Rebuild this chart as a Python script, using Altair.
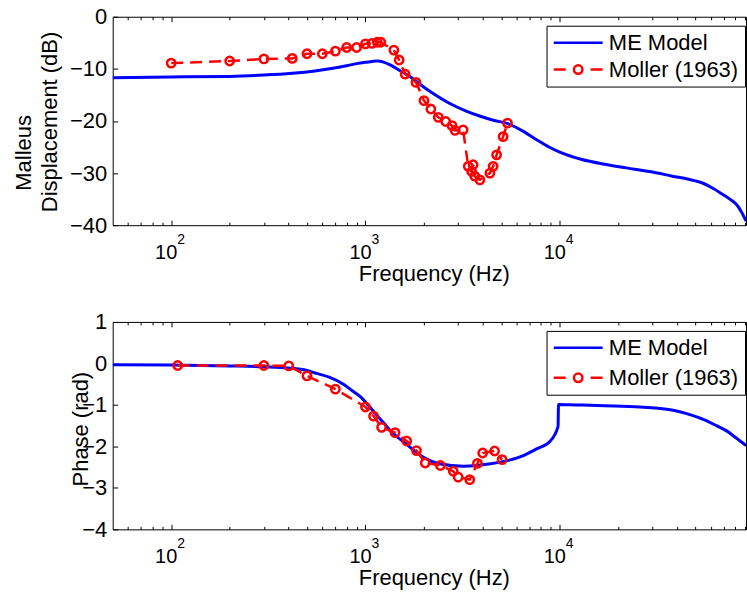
import altair as alt
import pandas as pd

FONT = "Liberation Sans"
XMIN, XMAX = 50, 90900
DECADES = [100, 1000, 10000]
MINOR = [60, 70, 80, 90, 200, 300, 400, 500, 600, 700, 800, 900,
         2000, 3000, 4000, 5000, 6000, 7000, 8000, 9000,
         20000, 30000, 40000, 50000, 60000, 70000, 80000, 90000]
SERIES = ["ME Model", "Moller (1963)"]
COLORS = ["#0000ff", "#ff0000"]

# ---- top panel: malleus displacement (dB) ----
mag_model_freq = [50, 100, 200, 300, 420, 550, 680, 800, 900, 1000, 1150, 1250, 1340,
                  1500, 1700, 1900, 2200, 2700, 3300, 3900, 4600, 5400, 6500, 7600,
                  8800, 10000, 13000, 17000, 22000, 30000, 38000, 46000, 55000, 62000,
                  69000, 75000, 81000, 86000, 91000]
mag_model_db = [-11.7, -11.55, -11.45, -11.2, -10.85, -10.4, -9.9, -9.4, -9.0, -8.75, -8.5,
                -8.75, -9.25, -10.3, -11.5, -12.9, -14.6, -16.6, -18.1, -19.1, -19.9,
                -20.5, -22.0, -23.6, -25.0, -26.0, -27.4, -28.3, -29.0, -29.8, -30.6,
                -31.2, -32.0, -33.0, -34.1, -35.0, -36.0, -37.4, -39.2]

mag_moller_freq = [100, 200, 300, 420, 500, 600, 700, 800, 900, 1000, 1080, 1150, 1200,
                   1400, 1490, 1600, 1820, 2000, 2170, 2370, 2590, 2790, 2890, 3180,
                   3380, 3520, 3580, 3650, 3880, 4370, 4540, 4730, 5110, 5380]
mag_moller_db = [-8.9, -8.5, -8.1, -8.0, -7.1, -7.1, -6.6, -5.9, -5.9, -5.2, -5.1, -4.9,
                 -4.9, -6.4, -8.3, -11.0, -12.6, -16.1, -17.7, -19.3, -20.1, -20.9,
                 -21.8, -21.7, -28.7, -29.7, -28.4, -30.6, -31.3, -30.0, -28.7, -26.5,
                 -23.0, -20.4]

# ---- bottom panel: phase (rad) ----
ph_model_freq = [50, 100, 200, 300, 400, 500, 560, 650, 770, 850, 940, 1040, 1140, 1250,
                 1340, 1500, 1630, 1800, 2000, 2400, 3200, 4400, 5500, 6500, 7600, 8900,
                 9800, 9850, 12000, 17000, 25800, 32000, 38300, 45000, 56800, 64000,
                 71900, 80000, 91000]
ph_model_rad = [-0.03, -0.04, -0.06, -0.08, -0.11, -0.17, -0.24, -0.33, -0.5, -0.65, -0.8,
                -1.02, -1.24, -1.45, -1.62, -1.82, -1.95, -2.12, -2.27, -2.42, -2.48,
                -2.42, -2.33, -2.22, -2.06, -1.88, -1.52, -0.99, -1.0, -1.02, -1.05,
                -1.08, -1.13, -1.21, -1.38, -1.5, -1.62, -1.78, -1.98]

ph_moller_freq = [108, 300, 403, 500, 700, 1000, 1100, 1210, 1420, 1630, 1830, 2030, 2430,
                  2830, 3000, 3440, 3770, 4010, 4620, 5050]
ph_moller_rad = [-0.05, -0.05, -0.06, -0.3, -0.62, -1.05, -1.27, -1.54, -1.67, -1.87, -2.1,
                 -2.4, -2.46, -2.6, -2.74, -2.8, -2.41, -2.16, -2.11, -2.32]

# custom legend symbols (line sample, and dashed line with a circle marker)
SHAPES = [
    "M-1.147,0L4.618,0",
    "M-1.147,0L0.265,0M3.206,0L4.618,0"
    "M2.235,0A0.5,0.5,0,1,1,1.235,0A0.5,0.5,0,1,1,2.235,0",
]


def make_df(freq, val, series):
    return pd.DataFrame({"freq": freq, "val": val, "series": series})


def panel(model_df, moller_df, ydom, yticks, ytitle, ytitle_x, ytitle_y, extra_title,
          height, leg_x, leg_y, row_pad):
    xs = alt.Scale(type="log", domain=[XMIN, XMAX], nice=False)
    ys = alt.Scale(domain=ydom, nice=False, zero=False)

    common = dict(grid=False, domain=False, tickColor="black", tickWidth=1,
                  labelFont=FONT, labelColor="black", labelFlush=False,
                  labelOverlap=False)

    ax_bottom_major = alt.Axis(
        orient="bottom", offset=-5, values=DECADES, tickSize=5, labels=False,
        title="Frequency (Hz)", titleFont=FONT, titleFontSize=22,
        titleFontWeight="normal", titleColor="black", titleX=322, titleY=60,
        titleBaseline="alphabetic", titleAlign="center", **common)
    ax_bottom_minor = alt.Axis(orient="bottom", offset=-3, values=MINOR, tickSize=3,
                               labels=False, title=None, **common)
    ax_top_major = alt.Axis(orient="top", offset=-5, values=DECADES, tickSize=5,
                            labels=False, title=None, **common)
    ax_top_minor = alt.Axis(orient="top", offset=-3, values=MINOR, tickSize=3,
                            labels=False, title=None, **common)
    # "10" base of the tick labels, shifted left of the tick like the reference
    ax_base = alt.Axis(orient="bottom", values=DECADES, ticks=False, tickSize=0,
                       translate=-5, labelExpr="'10'", labelFontSize=20,
                       labelBaseline="alphabetic", labelPadding=39,
                       labelAlign="center", title=None, **common)
    # superscript exponents
    ax_exp = alt.Axis(orient="bottom", values=DECADES, ticks=False, tickSize=0,
                      translate=6, labelExpr="format(log(datum.value) / LN10, 'd')",
                      labelFontSize=14, labelBaseline="alphabetic", labelPadding=13,
                      labelAlign="left", title=None, **common)

    ax_y = alt.Axis(orient="left", offset=-5, values=yticks, tickSize=5,
                    labelFontSize=22, labelPadding=6, title=ytitle,
                    titleFont=FONT, titleFontSize=22, titleFontWeight="normal",
                    titleColor="black", titleAngle=270, titleX=ytitle_x,
                    titleY=ytitle_y, titleAlign="center", titleBaseline="middle",
                    **common)
    if extra_title:
        ax_y2 = alt.Axis(orient="left", ticks=False, labels=False, domain=False,
                         grid=False, title=extra_title[0], titleFont=FONT,
                         titleFontSize=22, titleFontWeight="normal",
                         titleColor="black", titleAngle=270, titleX=extra_title[1],
                         titleY=extra_title[2], titleAlign="center",
                         titleBaseline="middle")
    else:
        ax_y2 = None

    model = alt.Chart(model_df).mark_line(
        color=COLORS[0], strokeWidth=3, interpolate="monotone", clip=True
    ).encode(
        x=alt.X("freq:Q", scale=xs, axis=ax_bottom_major),
        y=alt.Y("val:Q", scale=ys, axis=ax_y),
    )
    mline = alt.Chart(moller_df).mark_line(
        color=COLORS[1], strokeWidth=2.5, strokeDash=[12, 7], clip=True
    ).encode(
        x=alt.X("freq:Q", scale=xs, axis=ax_bottom_minor),
        y=alt.Y("val:Q", scale=ys, axis=ax_y2),
    )
    mpts = alt.Chart(moller_df).mark_point(
        shape="circle", filled=False, color=COLORS[1], size=70, strokeWidth=2.5,
        opacity=1, clip=True
    ).encode(
        x=alt.X("freq:Q", scale=xs, axis=ax_top_major),
        y=alt.Y("val:Q", scale=ys, axis=None),
    )
    leg = alt.Legend(title=None, orient="none", legendX=leg_x, legendY=leg_y,
                     padding=6, strokeColor="black", fillColor="white",
                     cornerRadius=0, labelFont=FONT, labelFontSize=22,
                     labelColor="black", labelOffset=34.5, symbolSize=289,
                     symbolStrokeWidth=2.5, symbolOpacity=1, rowPadding=row_pad)
    legend_layer = alt.Chart(moller_df).transform_filter("false").mark_point(
        filled=False, size=289, strokeWidth=2.5
    ).encode(
        x=alt.X("freq:Q", scale=xs, axis=ax_top_minor),
        y=alt.Y("val:Q", scale=ys, axis=None),
        color=alt.Color("series:N", scale=alt.Scale(domain=SERIES, range=COLORS),
                        legend=leg),
        shape=alt.Shape("series:N", scale=alt.Scale(domain=SERIES, range=SHAPES),
                        legend=leg),
    )
    base_layer = alt.Chart(moller_df).transform_filter("false").mark_point().encode(
        x=alt.X("freq:Q", scale=xs, axis=ax_base),
        y=alt.Y("val:Q", scale=ys, axis=None),
    )
    exp_layer = alt.Chart(moller_df).transform_filter("false").mark_point().encode(
        x=alt.X("freq:Q", scale=xs, axis=ax_exp),
        y=alt.Y("val:Q", scale=ys, axis=None),
    )
    return alt.layer(model, mline, mpts, legend_layer, base_layer, exp_layer).resolve_axis(
        x="independent", y="independent"
    ).properties(width=635, height=height)


top = panel(make_df(mag_model_freq, mag_model_db, SERIES[0]),
            make_df(mag_moller_freq, mag_moller_db, SERIES[1]),
            [-40, 0], [-40, -30, -20, -10, 0], "Displacement (dB)", -68, 105,
            ("Malleus", -89, 136), 209, 435, 9, 5)
bottom = panel(make_df(ph_model_freq, ph_model_rad, SERIES[0]),
               make_df(ph_moller_freq, ph_moller_rad, SERIES[1]),
               [-4, 1], [-4, -3, -2, -1, 0, 1], "Phase (rad)", -37, 107,
               None, 208, 435, 9, 8)

chart = alt.vconcat(top, bottom, spacing=97, bounds="flush").resolve_scale(
    color="independent", shape="independent"
).resolve_legend(
    color="independent", shape="independent"
).properties(
    padding={"left": 12, "top": 4, "right": 0, "bottom": 0},
    background="white",
).configure_view(stroke="black", strokeWidth=1)

chart.save("out.html", embed_options={"renderer": "svg", "actions": False})
